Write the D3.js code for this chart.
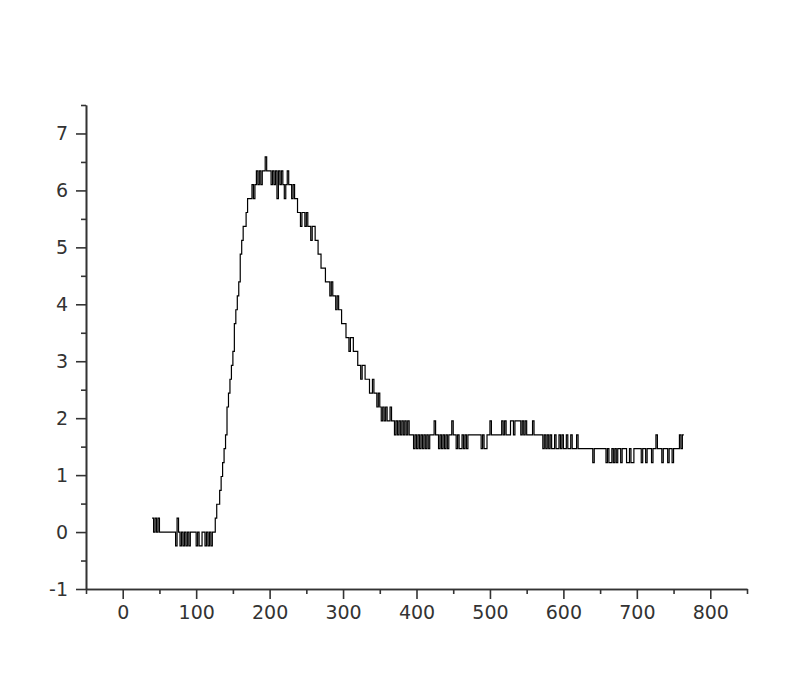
<!DOCTYPE html>
<html>
<head>
<meta charset="utf-8">
<script src="https://cdn.jsdelivr.net/npm/d3@7"></script>
<style>
  body { margin: 0; background: #fff; }
  .axis text { font-family: "DejaVu Sans", Verdana, sans-serif; font-size: 19px; fill: #333; }
  .axis path, .axis line { stroke: #333; stroke-width: 1.6; }
</style>
</head>
<body>
<div id="chart"></div>
<script>
// sampled signal: first sample at x = 40, one sample every 2 units
var xStart = 40;
var xStep = 2;
// ADC counts, 1 count = 0.244
var lsb = 0.244;
var counts = [
  1, 0, 1, 0, 1, 0, 0, 0, 0, 0,
  0, 0, 0, 0, 0, 0, -1, 1, 0, -1,
  0, -1, 0, -1, 0, -1, 0, 0, 0, 0,
  -1, 0, -1, -1, 0, 0, -1, 0, -1, 0,
  -1, 0, 0, 1, 2, 2, 3, 4, 5, 6,
  7, 9, 10, 11, 12, 13, 15, 16, 17, 18,
  20, 21, 22, 22, 23, 24, 24, 24, 25, 24,
  25, 26, 25, 26, 25, 26, 26, 27, 26, 26,
  26, 25, 26, 25, 26, 24, 26, 25, 26, 25,
  24, 25, 26, 25, 25, 24, 25, 24, 24, 23,
  23, 22, 23, 23, 22, 23, 22, 22, 21, 22,
  22, 21, 21, 20, 20, 19, 19, 19, 18, 18,
  18, 17, 18, 17, 17, 16, 17, 16, 16, 15,
  15, 15, 14, 14, 13, 14, 14, 13, 13, 13,
  12, 12, 11, 12, 12, 11, 11, 11, 10, 10,
  11, 10, 10, 9, 10, 9, 8, 9, 8, 9,
  8, 8, 9, 8, 8, 7, 8, 7, 8, 7,
  8, 7, 8, 7, 8, 7, 7, 7, 6, 7,
  6, 7, 6, 7, 6, 7, 6, 7, 6, 7,
  7, 7, 8, 7, 7, 6, 7, 6, 7, 6,
  7, 6, 7, 7, 8, 7, 7, 6, 7, 6,
  6, 7, 6, 7, 6, 7, 7, 7, 7, 7,
  7, 7, 7, 7, 6, 7, 6, 6, 7, 7,
  8, 7, 7, 7, 7, 7, 7, 7, 8, 7,
  8, 7, 7, 7, 8, 8, 7, 8, 8, 8,
  8, 7, 8, 7, 8, 7, 7, 7, 7, 8,
  7, 7, 7, 7, 7, 7, 6, 7, 6, 7,
  6, 7, 6, 6, 7, 6, 6, 7, 6, 7,
  6, 6, 7, 6, 6, 7, 6, 6, 6, 7,
  6, 6, 6, 6, 6, 6, 6, 6, 6, 6,
  5, 6, 6, 6, 6, 6, 6, 6, 6, 5,
  6, 5, 5, 6, 5, 6, 5, 6, 6, 5,
  6, 6, 6, 5, 5, 6, 5, 5, 6, 6,
  6, 6, 6, 5, 6, 6, 5, 6, 6, 6,
  5, 6, 6, 7, 6, 6, 6, 5, 6, 6,
  6, 5, 6, 6, 5, 6, 6, 6, 6, 7,
  6, 7, 7
];

var xMajor = [0, 100, 200, 300, 400, 500, 600, 700, 800];
var xMinor = [-50, 50, 150, 250, 350, 450, 550, 650, 750, 850];
var yMajor = [-1, 0, 1, 2, 3, 4, 5, 6, 7];
var yMinor = [-0.5, 0.5, 1.5, 2.5, 3.5, 4.5, 5.5, 6.5, 7.5];

var svgWidth = 800;
var svgHeight = 683;
var margin = {top: 105, right: 53, bottom: 94, left: 86};
var width = svgWidth - margin.left - margin.right;
var height = svgHeight - margin.top - margin.bottom;

var svg = d3.select("#chart")
  .append("svg")
  .attr("width", svgWidth)
  .attr("height", svgHeight);

var chartGroup = svg.append("g")
  .attr("transform", `translate(${margin.left}, ${margin.top})`);

var data = counts.map((c, i) => ({x: xStart + i * xStep, v: c * lsb}));

var xScale = d3.scaleLinear().domain([-50, 850]).range([0, width]);
var yScale = d3.scaleLinear().domain([-1, 7.5]).range([height, 0]);

// plain hyphen for negatives, like the original
var plain = d => String(d);

// minor ticks first, no labels
chartGroup.append("g")
  .attr("class", "axis")
  .attr("transform", `translate(0, ${height})`)
  .call(d3.axisBottom(xScale).tickValues(xMinor).tickSize(5).tickSizeOuter(0).tickFormat(""));

chartGroup.append("g")
  .attr("class", "axis")
  .call(d3.axisLeft(yScale).tickValues(yMinor).tickSize(5).tickSizeOuter(0).tickFormat(""));

// major ticks with labels
var xAxisG = chartGroup.append("g")
  .attr("class", "axis")
  .attr("transform", `translate(0, ${height})`)
  .call(d3.axisBottom(xScale).tickValues(xMajor).tickSize(10).tickSizeOuter(0).tickFormat(plain));
xAxisG.selectAll("text").attr("y", 17);

chartGroup.append("g")
  .attr("class", "axis")
  .call(d3.axisLeft(yScale).tickValues(yMajor).tickSize(10).tickSizeOuter(0).tickPadding(8).tickFormat(plain));

// the signal
var line = d3.line()
  .x(d => xScale(d.x))
  .y(d => yScale(d.v))
  .curve(d3.curveStepAfter);

chartGroup.append("path")
  .datum(data)
  .attr("fill", "none")
  .attr("stroke", "#000")
  .attr("stroke-width", 1.2)
  .attr("d", line);
</script>
</body>
</html>
